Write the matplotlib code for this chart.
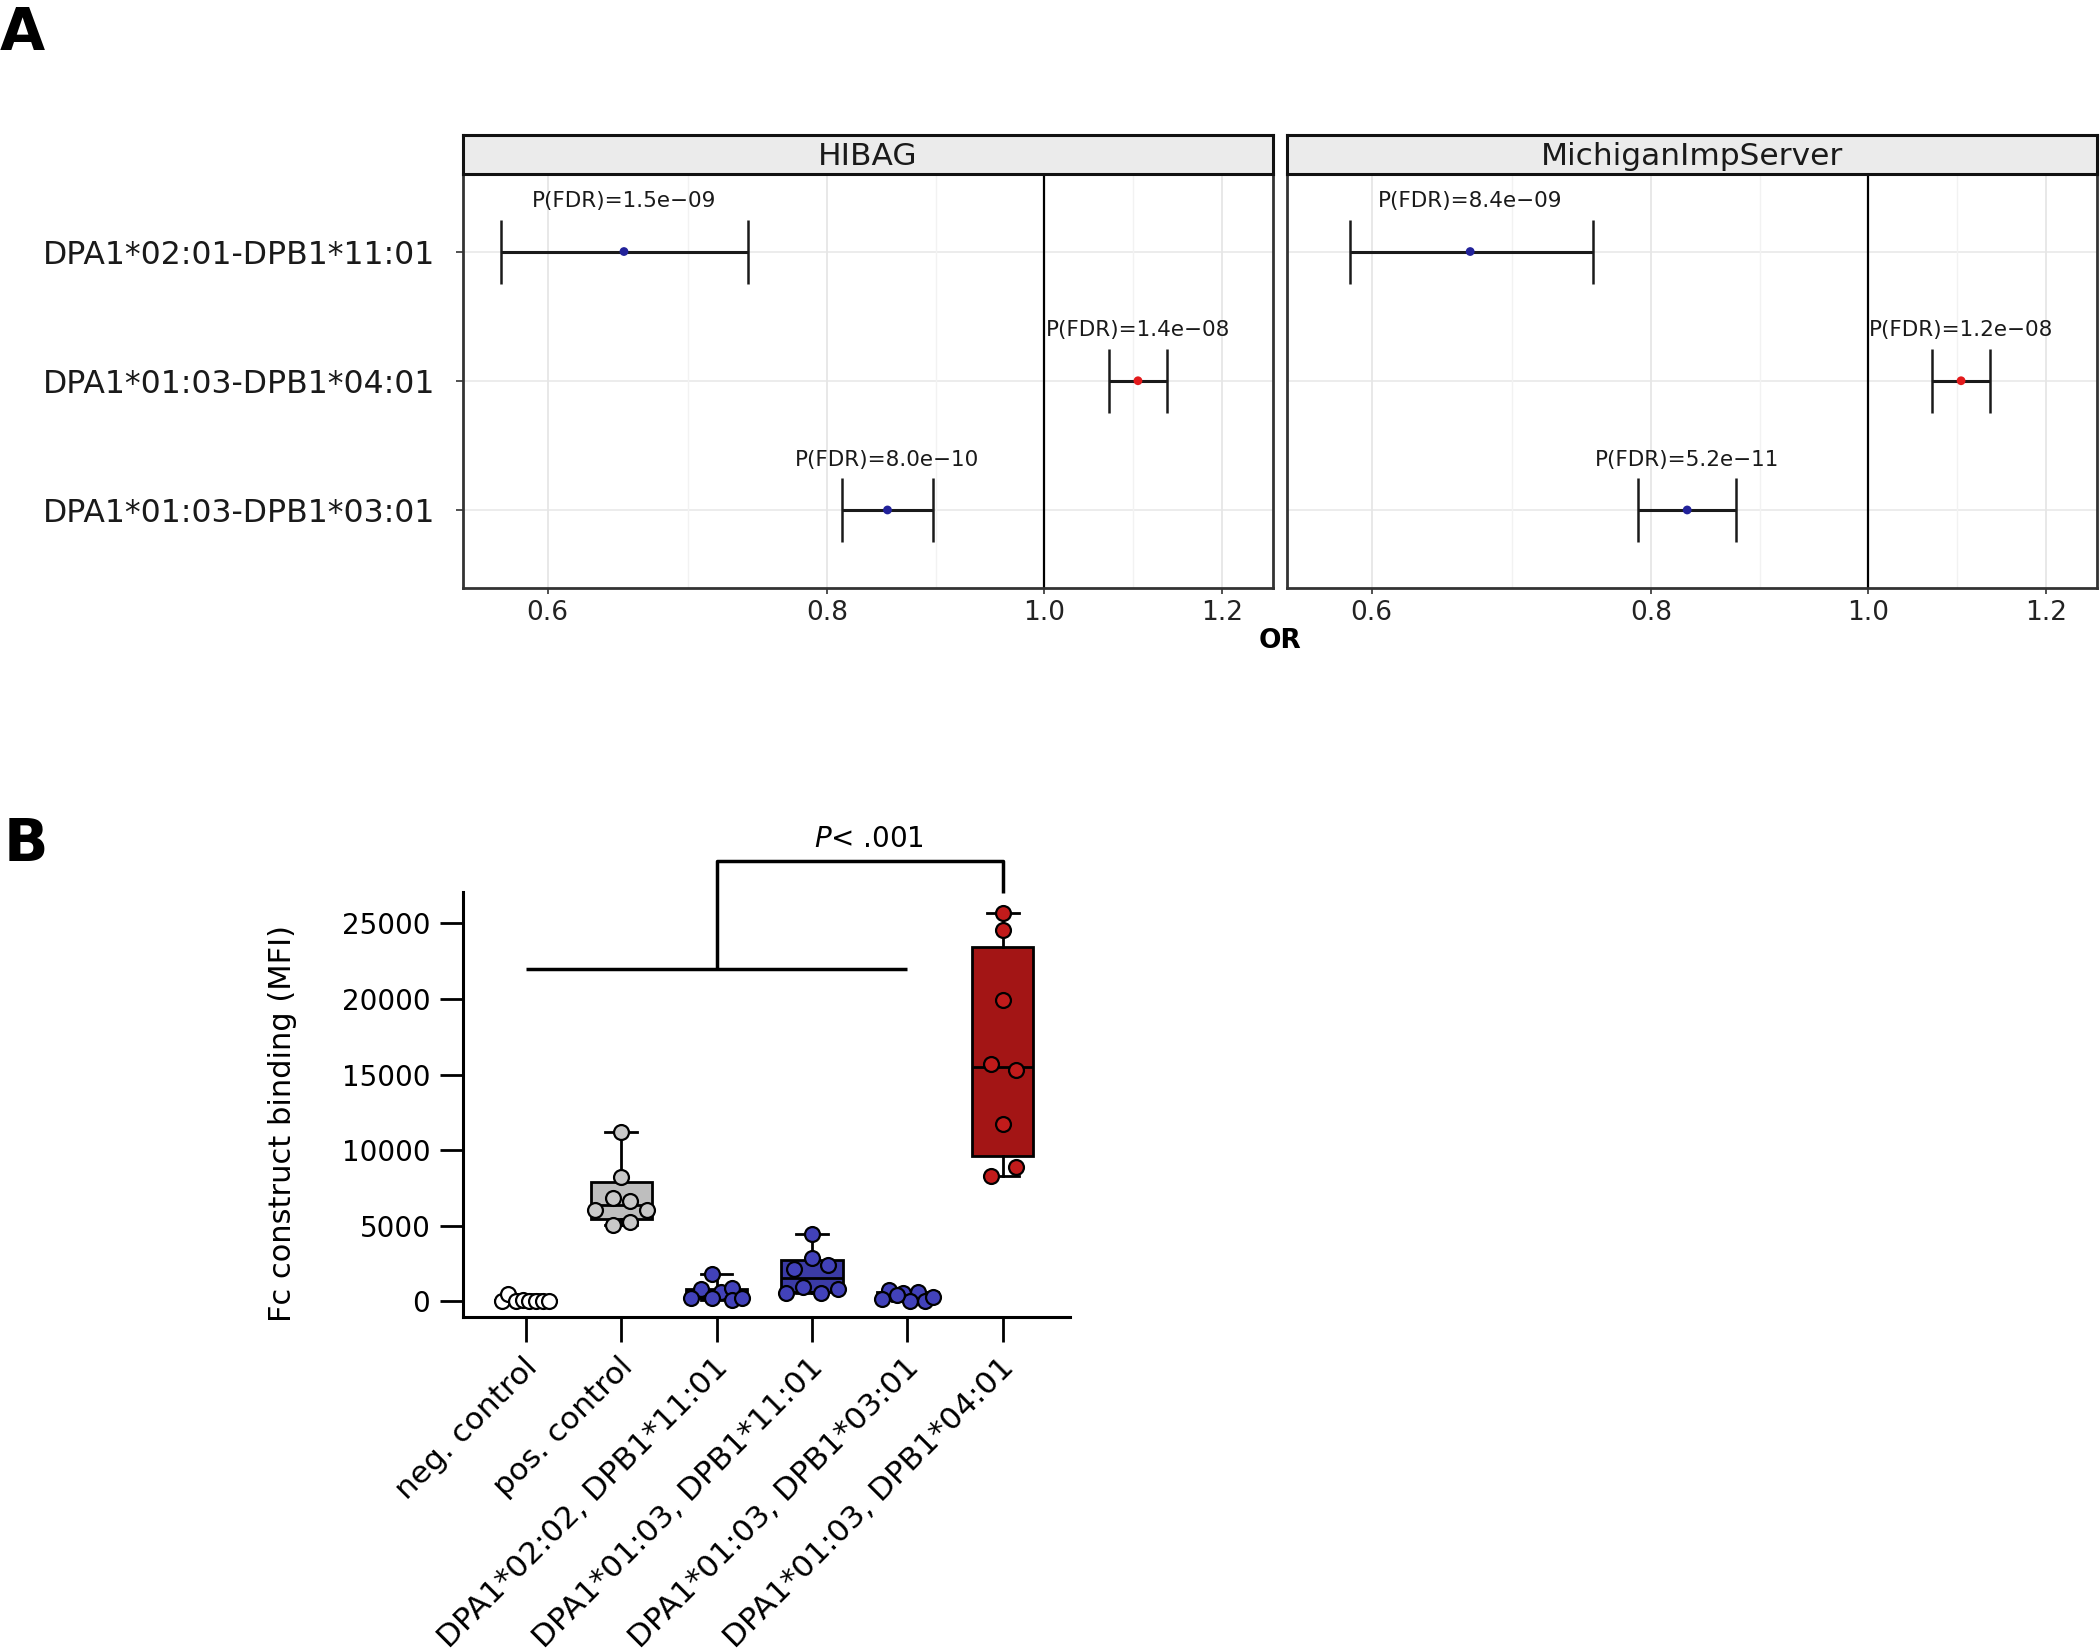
import matplotlib
matplotlib.use("Agg")
import matplotlib.pyplot as plt
import matplotlib.transforms as mtransforms
import numpy as np
from matplotlib.ticker import FixedLocator, NullFormatter, FuncFormatter

# ---- panel A: odds ratios per imputation method ----
ALLELES = ["DPA1*02:01-DPB1*11:01", "DPA1*01:03-DPB1*04:01", "DPA1*01:03-DPB1*03:01"]
METHODS = ["HIBAG", "MichiganImpServer"]
HIBAG_OR = [0.649, 1.101, 0.851]
HIBAG_LO = [0.572, 1.069, 0.812]
HIBAG_HI = [0.737, 1.134, 0.892]
HIBAG_P = ["1.5e−09", "1.4e−08", "8.0e−10"]
MIS_OR = [0.664, 1.100, 0.830]
MIS_LO = [0.587, 1.068, 0.789]
MIS_HI = [0.753, 1.133, 0.873]
MIS_P = ["8.4e−09", "1.2e−08", "5.2e−11"]
OR_TICKS = [0.6, 0.8, 1.0, 1.2]

# ---- panel B: Fc construct binding ----
GROUPS = ["neg. control", "pos. control", "DPA1*02:02, DPB1*11:01",
          "DPA1*01:03, DPB1*11:01", "DPA1*01:03, DPB1*03:01", "DPA1*01:03, DPB1*04:01"]
NEG = [40, 470, 30, 60, 20, 50, 10, 30]
POS = [11180, 8250, 6820, 6660, 6040, 6040, 5270, 5050]
DPA0202_1101 = [1810, 800, 640, 850, 200, 200, 90, 240]
DPA0103_1101 = [4440, 2850, 2120, 2410, 535, 930, 575, 820]
DPA0103_0301 = [750, 140, 580, 640, 20, 30, 310, 420]
DPA0103_0401 = [25660, 24560, 19930, 15700, 15300, 11710, 8910, 8310]
MFI = [NEG, POS, DPA0202_1101, DPA0103_1101, DPA0103_0301, DPA0103_0401]
# horizontal scatter of the dots inside each group (category units)
JITTER = [
    [-0.25, -0.18, -0.10, -0.03, 0.04, 0.11, 0.18, 0.25],
    [0, 0, -0.08, 0.09, -0.27, 0.27, 0.09, -0.08],
    [-0.05, -0.16, 0.05, 0.16, -0.27, -0.05, 0.16, 0.27],
    [0, 0, -0.19, 0.17, -0.27, -0.09, 0.09, 0.27],
    [-0.19, -0.27, -0.05, 0.11, 0.03, 0.18, 0.27, -0.11],
    [0, 0, 0, -0.12, 0.14, 0, 0.14, -0.12],
]
BOX_COLORS = ["white", "#BEBEBE", "#3B3BA6", "#3B3BA6", "#3B3BA6", "#A31515"]
DOT_COLORS = ["white", "#C8C8C8", "#4242BA", "#4242BA", "#4242BA", "#C11B1B"]
BRACKET_LOW, BRACKET_TOP, BRACKET_END = 22000, 29100, 27000

BLUE = "#22229A"
RED = "#E31A1C"

fig = plt.figure(figsize=(21, 16.52), dpi=100)
W, H = 2100, 1652


def frac(x0, y0, x1, y1):
    return [x0 / W, 1 - y1 / H, (x1 - x0) / W, (y1 - y0) / H]


panels = [
    (frac(463, 174, 1273, 587.5), frac(463, 134.5, 1273, 174), HIBAG_OR, HIBAG_LO, HIBAG_HI, HIBAG_P),
    (frac(1287, 174, 2097, 587.5), frac(1287, 134.5, 2097, 174), MIS_OR, MIS_LO, MIS_HI, MIS_P),
]
rows = np.arange(1, len(ALLELES) + 1)
for i, (rect, srect, ors, lo, hi, pvals) in enumerate(panels):
    ax = fig.add_axes(rect)
    ors, lo, hi = np.array(ors), np.array(lo), np.array(hi)
    ax.set_xscale("log")
    ax.set_xlim(0.55, 1.265)
    ax.set_ylim(3.6, 0.4)
    ax.xaxis.set_major_locator(FixedLocator(OR_TICKS))
    ax.xaxis.set_minor_locator(FixedLocator(np.sqrt(np.array(OR_TICKS[:-1]) * np.array(OR_TICKS[1:]))))
    ax.xaxis.set_major_formatter(FuncFormatter(lambda v, p: f"{v:.1f}"))
    ax.xaxis.set_minor_formatter(NullFormatter())
    ax.grid(axis="x", which="major", color="#E6E6E6", linewidth=1.3)
    ax.grid(axis="x", which="minor", color="#F2F2F2", linewidth=1.0)
    for r in rows:
        ax.axhline(r, color="#EBEBEB", linewidth=1.3, zorder=0)
    ax.set_axisbelow(True)
    ax.axvline(1.0, color="black", linewidth=1.6, zorder=1)
    ax.errorbar(ors, rows, xerr=[ors - lo, hi - ors], fmt="none", ecolor="#1a1a1a",
                elinewidth=2.2, capsize=23, capthick=1.8, zorder=2)
    ax.scatter(ors, rows, s=40, color=[RED if v > 1 else BLUE for v in ors], zorder=3, linewidths=0)
    for x, r, p in zip(ors, rows, pvals):
        ax.text(x, r - 0.39, f"P(FDR)={p}", ha="center", va="center", fontsize=15.5, color="#1a1a1a")
    for sp in ax.spines.values():
        sp.set_color("#333333")
        sp.set_linewidth(2)
    ax.tick_params(axis="x", which="major", length=4, width=1.2, color="#333333",
                   labelsize=19, labelcolor="#222222", pad=5)
    ax.tick_params(axis="x", which="minor", length=0)
    if i == 0:
        ax.set_yticks(rows, ALLELES)
        ax.tick_params(axis="y", length=5, width=1.2, color="#333333", labelsize=22.7,
                       labelcolor="#1a1a1a", pad=15)
    else:
        ax.set_yticks(rows, [""] * len(rows))
        ax.tick_params(axis="y", length=0)
    # facet strip
    sax = fig.add_axes(srect)
    sax.set_facecolor("#EBEBEB")
    sax.set_xticks([])
    sax.set_yticks([])
    for sp in sax.spines.values():
        sp.set_color("#111111")
        sp.set_linewidth(2.2)
    sax.text(0.5, 0.45, METHODS[i], ha="center", va="center", fontsize=22.5,
             color="#1a1a1a", transform=sax.transAxes)

fig.text(1280 / W, 1 - 641 / H, "OR", ha="center", va="center", fontsize=19, fontweight="bold")

# ---- panel B ----
bx = fig.add_axes(frac(463, 892.3, 1069.7, 1316.9))
pos = np.arange(len(GROUPS))
stats = []
for vals in MFI:
    v = np.array(vals, dtype=float)
    q1, med, q3 = np.percentile(v, [25, 50, 75], method="weibull")
    stats.append(dict(med=med, q1=q1, q3=q3, whislo=v.min(), whishi=v.max(), fliers=[]))
bp = bx.bxp(stats, positions=pos, widths=0.64, patch_artist=True, showfliers=False,
            boxprops=dict(linewidth=2.0, edgecolor="black"),
            medianprops=dict(color="black", linewidth=2.0),
            whiskerprops=dict(color="black", linewidth=2.0),
            capprops=dict(color="black", linewidth=2.0), capwidths=0.33,
            manage_ticks=False)
for patch, c in zip(bp["boxes"], BOX_COLORS):
    patch.set_facecolor(c)
for k, (vals, jit) in enumerate(zip(MFI, JITTER)):
    bx.scatter(pos[k] + np.array(jit), vals, s=115, facecolor=DOT_COLORS[k],
               edgecolor="black", linewidths=1.6, zorder=4)

bx.set_xlim(-0.656, 5.70)
bx.set_ylim(-1030, 27050)
bx.set_yticks(np.arange(0, 25001, 5000))
bx.spines[["top", "right"]].set_visible(False)
bx.spines["left"].set_linewidth(2.2)
bx.spines["bottom"].set_linewidth(2.2)
bx.tick_params(axis="y", length=16.5, width=2, labelsize=20, pad=7)
bx.set_xticks(pos, GROUPS)
bx.tick_params(axis="x", length=18, width=2, labelsize=22.4, pad=15)
shift = mtransforms.ScaledTranslation(0.07, 0, fig.dpi_scale_trans)
for lab in bx.get_xticklabels():
    lab.set_rotation(45)
    lab.set_ha("right")
    lab.set_va("center")
    lab.set_rotation_mode("anchor")
    lab.set_transform(lab.get_transform() + shift)

bx.text(-0.298, 0.4555, "Fc construct binding (MFI)", transform=bx.transAxes, rotation=90,
        ha="center", va="center", fontsize=22)

# comparison bracket: groups 0-4 vs the last group
lk = dict(color="black", linewidth=2.5, clip_on=False, solid_capstyle="butt")
bx.plot([pos[0], pos[4]], [BRACKET_LOW, BRACKET_LOW], **lk)
mid = (pos[0] + pos[4]) / 2
bx.plot([mid, mid, pos[5], pos[5]], [BRACKET_LOW, BRACKET_TOP, BRACKET_TOP, BRACKET_END], **lk)
bx.text(3.6, 30600, r"$\it{P}$< .001", ha="center", va="center", fontsize=20, clip_on=False)

fig.text(0 / W, 1 - 50 / H, "A", fontsize=42, fontweight="bold", ha="left", va="baseline")
fig.text(4 / W, 1 - 861 / H, "B", fontsize=42, fontweight="bold", ha="left", va="baseline")

fig.savefig("out.png", dpi=100, facecolor="white")
